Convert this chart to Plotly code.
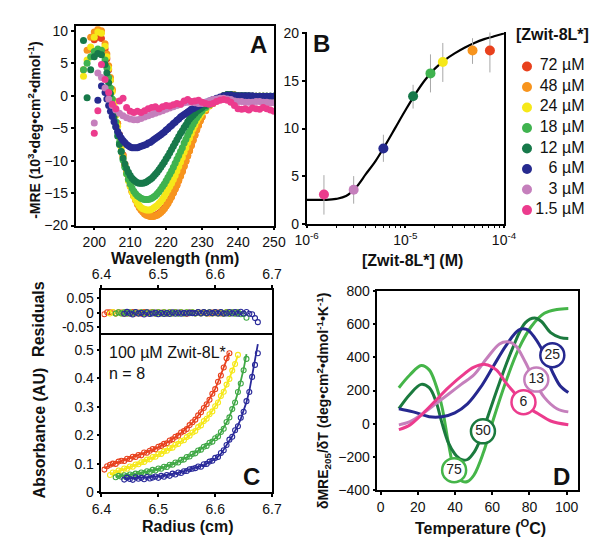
import plotly.graph_objects as go

FONT = "Liberation Sans, Arial, sans-serif"
W, H = 601, 539
def fx(p): return p / W
def fy(p): return 1 - p / H

# ---------------- Panel A: CD spectra ----------------
wavelength = list(range(197, 251))
wl_half = [203.5 + k for k in range(27)]
mre_72 = [None, None, 7.2, 8.6, 9.0, 8.8, 7.2, 4.0, 0.8, -2.6,
          -6.0, -9.1, -11.7, -13.8, -15.4, -16.6, -17.5, -18.1, -18.4, -18.5,
          -18.4, -18.1, -17.6, -16.9, -16.0, -14.9, -13.7, -12.3, -10.8, -9.2,
          -7.6, -6.0, -4.5, -3.2, -2.2, -1.5, -1.1, -0.7, -0.3, 0.0,
          0.1, 0.2, 0.1, 0.0, -0.1, -0.1, -0.1, -0.2, -0.2, -0.2,
          -0.2, -0.3, -0.3, -0.3]
mre_72_h = [5.7, 2.4, -0.9, -4.3, -7.6, -10.5, -12.8, -14.7, -16.0, -17.1,
            -17.8, -18.3, -18.5, -18.5, -18.3, -17.9, -17.3, -16.5, -15.5, -14.3,
            -13.0, -11.6, -10.0, -8.4, -6.8, -5.2, -3.8]
mre_48 = [4.0, 7.0, 9.0, 9.8, 10.2, 10.0, 8.0, 4.6, 1.0, -2.5,
          -6.0, -9.2, -11.8, -13.9, -15.5, -16.7, -17.6, -18.2, -18.5, -18.6,
          -18.5, -18.2, -17.7, -17.0, -16.1, -15.0, -13.8, -12.4, -10.9, -9.3,
          -7.7, -6.1, -4.6, -3.3, -2.3, -1.6, -1.2, -0.8, -0.4, -0.1,
          0.1, 0.2, 0.1, 0.0, 0.0, -0.1, -0.1, -0.1, -0.1, -0.1,
          -0.1, -0.2, -0.2, -0.2]
mre_48_h = [6.4, 2.8, -0.8, -4.3, -7.6, -10.6, -12.9, -14.8, -16.1, -17.2,
            -17.9, -18.4, -18.6, -18.6, -18.4, -18.0, -17.4, -16.6, -15.6, -14.4,
            -13.1, -11.7, -10.1, -8.5, -6.9, -5.3, -3.9]
mre_24 = [3.0, 5.5, 7.5, 9.0, 9.8, 9.6, 7.6, 4.2, 0.6, -3.0,
          -6.4, -9.5, -12.0, -14.0, -15.5, -16.5, -17.2, -17.5, -17.6, -17.5,
          -17.1, -16.6, -15.9, -15.0, -14.0, -12.9, -11.6, -10.2, -8.7, -7.2,
          -5.8, -4.5, -3.4, -2.6, -2.0, -1.5, -1.2, -0.8, -0.4, -0.1,
          0.1, 0.1, 0.0, 0.0, 0.0, -0.1, -0.1, -0.1, -0.1, -0.1,
          -0.1, -0.1, -0.2, -0.2]
mre_24_h = [6.0, 2.4, -1.2, -4.7, -8.0, -10.8, -13.1, -14.8, -16.0, -16.9,
            -17.4, -17.6, -17.6, -17.3, -16.9, -16.3, -15.5, -14.5, -13.5, -12.3,
            -10.9, -9.5, -8.0, -6.5, -5.1, -3.9, -3.0]
mre_18 = [4.0, 5.0, 6.0, 6.8, 7.2, 7.0, 5.5, 2.8, -0.5, -4.0,
          -7.2, -9.9, -12.0, -13.6, -14.7, -15.4, -15.8, -16.0, -16.0, -15.8,
          -15.4, -14.8, -14.0, -13.1, -12.1, -11.0, -9.8, -8.6, -7.3, -6.1,
          -4.9, -3.9, -3.0, -2.3, -1.8, -1.4, -1.1, -0.7, -0.3, 0.0,
          0.2, 0.1, 0.0, 0.0, 0.0, 0.0, -0.1, -0.1, -0.1, -0.1,
          -0.1, -0.1, -0.1, -0.1]
mre_18_h = [4.3, 1.2, -2.3, -5.6, -8.6, -11.0, -12.9, -14.2, -15.1, -15.6,
            -15.9, -16.0, -15.9, -15.6, -15.1, -14.4, -13.6, -12.6, -11.6, -10.4,
            -9.2, -8.0, -6.7, -5.5, -4.4, -3.4, -2.6]
mre_12 = [8.5, -0.3, 4.0, 6.0, 6.5, 6.3, 4.8, 2.0, -1.5, -4.8,
          -7.5, -9.6, -11.2, -12.3, -13.0, -13.4, -13.5, -13.4, -13.1, -12.7,
          -12.1, -11.4, -10.6, -9.7, -8.8, -7.8, -6.8, -5.8, -4.9, -4.0,
          -3.3, -2.7, -2.2, -1.8, -1.5, -1.2, -0.9, -0.6, -0.3, 0.0,
          0.2, 0.2, 0.1, 0.0, 0.0, 0.0, 0.0, -0.1, -0.1, -0.1,
          -0.1, -0.1, -0.1, -0.1]
mre_12_h = [3.5, 0.3, -3.2, -6.2, -8.6, -10.5, -11.8, -12.7, -13.2, -13.5,
            -13.5, -13.3, -12.9, -12.4, -11.8, -11.0, -10.2, -9.3, -8.3, -7.3,
            -6.3, -5.4, -4.5, -3.6, -3.0, -2.4, -2.0]
mre_6 = [None, None, None, None, -0.7, 1.5, 0.5, -1.5, -3.2, -4.8,
         -6.0, -6.9, -7.5, -7.9, -8.0, -8.0, -7.8, -7.6, -7.3, -7.0,
         -6.6, -6.2, -5.8, -5.3, -4.8, -4.3, -3.8, -3.3, -2.9, -2.5,
         -2.1, -1.8, -1.5, -1.2, -1.0, -0.8, -0.6, -0.4, -0.2, 0.0,
         0.1, 0.1, 0.0, 0.0, 0.0, 0.0, 0.0, 0.0, -0.1, -0.1,
         -0.1, -0.1, -0.1, -0.1]
mre_6_h = [-0.5, -2.4, -4.0, -5.5, -6.5, -7.2, -7.7, -8.0, -8.0, -7.9,
           -7.7, -7.5, -7.2, -6.8, -6.4, -6.0, -5.6, -5.1, -4.6, -4.1,
           -3.6, -3.1, -2.7, -2.3, -2.0, -1.7, -1.4]
mre_3 = [None, None, None, -4.2, 3.5, 2.8, 1.2, -0.5, -1.5, -2.2,
         -2.7, -3.1, -3.4, -3.6, -3.7, -3.7, -3.5, -3.3, -3.1, -2.9,
         -2.7, -2.5, -2.3, -2.1, -1.9, -1.7, -1.5, -1.3, -1.1, -1.0,
         -1.0, -1.1, -1.2, -1.2, -1.0, -0.8, -0.6, -0.5, -0.4, -0.4,
         -0.5, -0.6, -0.8, -0.9, -0.9, -1.0, -1.0, -1.0, -0.9, -0.9,
         -1.0, -1.0, -1.1, -1.1]
mre_1_5 = [None, None, None, -5.8, -2.3, 4.8, 2.5, 0.5, -1.3, -2.0,
           -0.8, -0.4, -1.8, -2.4, -2.6, -2.4, -2.6, -2.3, -2.0, -1.8,
           -1.7, -2.0, -1.7, -1.5, -1.6, -1.4, -1.2, -1.3, -0.8, -0.6,
           -0.9, -0.8, -0.7, -1.0, -1.2, -1.3, -1.2, -0.9, -0.7, -0.6,
           -0.7, -1.0, -1.5, -2.0, -2.1, -2.0, -2.2, -1.9, -2.0, -2.1,
           -1.8, -2.0, -2.2, -2.4]

# ---------------- Panel B: MRE vs concentration ----------------
conc_labels = ['72 µM', '48 µM', '24 µM', '18 µM', '12 µM', '6 µM', '3 µM', '1.5 µM']
conc_M = [72e-6, 48e-6, 24e-6, 18e-6, 12e-6, 6e-6, 3e-6, 1.5e-6]
conc_colors = ['#e8411d', '#f7941d', '#f6e819', '#3fb34f', '#17794a', '#262a8f', '#c57fbc', '#ec3b8d']
mre_B = [18.2, 18.2, 17.0, 15.8, 13.4, 7.9, 3.57, 3.06]
err_plus = [2.2, 1.3, 2.0, 2.0, 1.2, 1.45, 1.43, 2.04]
err_minus = [2.3, 1.4, 2.1, 2.0, 1.3, 1.4, 1.47, 2.11]
fit_logc = [-6.0, -5.9, -5.8, -5.7, -5.6, -5.5, -5.4, -5.3, -5.2, -5.1, -5.0,
            -4.9, -4.8, -4.7, -4.6, -4.5, -4.4, -4.3, -4.2, -4.1, -4.0]
fit_mre = [2.5, 2.5, 2.5, 2.6, 2.9, 3.8, 5.2, 6.6, 8.3, 10.1, 11.9,
           13.6, 15.1, 16.3, 17.2, 17.9, 18.5, 19.0, 19.4, 19.7, 20.0]

# ---------------- Panel C: sedimentation equilibrium ----------------
abs_red = [0.080, 0.092, 0.097, 0.101, 0.100, 0.108, 0.111, 0.110, 0.118, 0.117,
           0.125, 0.124, 0.131, 0.130, 0.140, 0.139, 0.146, 0.152, 0.151, 0.160,
           0.163, 0.170, 0.172, 0.182, 0.186, 0.195, 0.199, 0.210, 0.215, 0.222,
           0.236, 0.246, 0.255, 0.270, 0.281, 0.296, 0.309, 0.325, 0.346, 0.362,
           0.388, 0.410, 0.438, 0.470, 0.488]
fit_red = [0.085, 0.090, 0.095, 0.099, 0.1025, 0.106, 0.1095, 0.113, 0.116, 0.119,
           0.1225, 0.126, 0.1295, 0.133, 0.137, 0.141, 0.145, 0.149, 0.1535, 0.158,
           0.163, 0.168, 0.174, 0.180, 0.1865, 0.193, 0.2005, 0.208, 0.2165, 0.225,
           0.235, 0.245, 0.2565, 0.268, 0.281, 0.295, 0.311, 0.327, 0.345, 0.363,
           0.387, 0.412, 0.440, 0.468, 0.490]
abs_yel = [0.061, 0.070, 0.069, 0.077, 0.076, 0.084, 0.083, 0.091, 0.090, 0.098,
           0.099, 0.106, 0.107, 0.115, 0.116, 0.124, 0.125, 0.134, 0.135, 0.144,
           0.146, 0.155, 0.157, 0.167, 0.170, 0.180, 0.183, 0.194, 0.199, 0.210,
           0.215, 0.229, 0.235, 0.250, 0.258, 0.274, 0.284, 0.302, 0.315, 0.338,
           0.353, 0.378, 0.398, 0.427, 0.450, 0.482]
fit_yel = [0.063, 0.067, 0.071, 0.075, 0.078, 0.082, 0.085, 0.089, 0.092, 0.096,
           0.100, 0.104, 0.108, 0.113, 0.117, 0.122, 0.127, 0.132, 0.137, 0.142,
           0.147, 0.153, 0.159, 0.165, 0.171, 0.178, 0.185, 0.192, 0.200, 0.208,
           0.217, 0.227, 0.237, 0.248, 0.260, 0.272, 0.286, 0.300, 0.317, 0.336,
           0.355, 0.376, 0.400, 0.425, 0.452, 0.480]
abs_grn = [0.053, 0.058, 0.055, 0.060, 0.057, 0.063, 0.060, 0.066, 0.064, 0.070,
           0.068, 0.074, 0.072, 0.079, 0.077, 0.084, 0.083, 0.090, 0.089, 0.097,
           0.097, 0.105, 0.105, 0.114, 0.115, 0.124, 0.126, 0.135, 0.137, 0.147,
           0.150, 0.160, 0.163, 0.174, 0.178, 0.190, 0.196, 0.212, 0.223, 0.247,
           0.263, 0.292, 0.315, 0.352, 0.382, 0.428, 0.468]
fit_grn = [0.055, 0.056, 0.057, 0.058, 0.0595, 0.061, 0.0625, 0.064, 0.066, 0.068,
           0.070, 0.072, 0.0745, 0.077, 0.0795, 0.082, 0.085, 0.088, 0.0915, 0.095,
           0.099, 0.103, 0.1075, 0.112, 0.117, 0.122, 0.1275, 0.133, 0.139, 0.145,
           0.1515, 0.158, 0.165, 0.172, 0.180, 0.188, 0.198, 0.210, 0.226, 0.245,
           0.266, 0.290, 0.318, 0.350, 0.387, 0.432, 0.485]
abs_blu = [0.045, 0.052, 0.047, 0.044, 0.053, 0.048, 0.051, 0.046, 0.054, 0.049,
           0.052, 0.056, 0.051, 0.058, 0.055, 0.061, 0.058, 0.066, 0.063, 0.070,
           0.068, 0.074, 0.075, 0.081, 0.083, 0.085, 0.091, 0.090, 0.099, 0.100,
           0.108, 0.111, 0.121, 0.124, 0.138, 0.148, 0.166, 0.185, 0.195, 0.218,
           0.232, 0.262, 0.283, 0.320, 0.352, 0.405, 0.447, 0.488]
fit_blu = [0.048, 0.0485, 0.049, 0.0495, 0.050, 0.0505, 0.051, 0.0515, 0.052, 0.053,
           0.054, 0.055, 0.056, 0.0575, 0.059, 0.0605, 0.062, 0.064, 0.066, 0.0685,
           0.071, 0.074, 0.077, 0.080, 0.084, 0.086, 0.088, 0.092, 0.096, 0.101,
           0.106, 0.112, 0.118, 0.126, 0.135, 0.150, 0.168, 0.182, 0.197, 0.215,
           0.235, 0.258, 0.285, 0.317, 0.355, 0.410, 0.465, 0.520]
r_start = {'red': 6.405, 'yel': 6.415, 'grn': 6.425, 'blu': 6.44}
r_step = 0.005

# ---------------- Panel D: thermal derivative ----------------
T_75 = [9.8, 15.8, 21.8, 26.1, 29.6, 33.0, 36.4, 39.9, 43.3, 46.7, 50.2, 55.3, 60.5, 67.4, 74.2, 81.1, 88.0, 94.8, 100.9]
d_75 = [217, 295, 350, 324, 237, 101, -113, -288, -342, -346, -307, -171, 23, 256, 450, 586, 664, 687, 693]
T_50 = [9.8, 15.8, 21.8, 26.1, 29.6, 33.0, 36.4, 39.9, 43.3, 46.7, 50.2, 53.6, 57.0, 63.9, 70.8, 77.7, 82.8, 86.3, 91.4, 96.6, 100.9]
d_50 = [91, 178, 237, 217, 140, 4, -113, -181, -214, -214, -171, -93, 23, 247, 450, 606, 635, 616, 548, 518, 512]
T_25 = [9.8, 17.5, 26.1, 33.0, 39.9, 46.7, 53.6, 60.5, 67.4, 74.2, 78.5, 82.8, 88.0, 93.1, 96.6, 100.9]
d_25 = [91, 72, 43, 43, 66, 120, 217, 344, 470, 563, 567, 518, 421, 295, 227, 188]
T_13 = [9.8, 15.8, 22.7, 29.6, 36.4, 43.3, 50.2, 57.0, 63.9, 68.2, 72.5, 77.7, 82.8, 88.0, 94.8, 100.9]
d_13 = [-6, 13, 62, 120, 178, 237, 295, 392, 480, 493, 470, 373, 256, 159, 91, 72]
T_6 = [9.8, 15.8, 22.7, 29.6, 36.4, 43.3, 50.2, 56.2, 62.2, 67.4, 72.5, 77.7, 84.5, 91.4, 100.9]
d_6 = [-35, -6, 62, 140, 217, 285, 340, 357, 324, 246, 178, 110, 62, 17, -6]
label_T = [39.5, 55.0, 92.3, 83.7, 76.8]
label_val = [-278, -45, 412, 266, 130]
label_text = ['75', '50', '25', '13', '6']
D_colors = ['#45b549', '#1b7a3e', '#26288f', '#c57fbc', '#ec3b8d']

fig = go.Figure()

# Panel A traces
A_series = [(mre_72, mre_72_h), (mre_48, mre_48_h), (mre_24, mre_24_h), (mre_18, mre_18_h),
            (mre_12, mre_12_h), (mre_6, mre_6_h), (mre_3, None), (mre_1_5, None)]
for (ys, yh), c in zip(A_series, conc_colors):
    xs = list(wavelength)
    yy = list(ys)
    if yh is not None:
        xs += wl_half
        yy += yh
    fig.add_trace(go.Scatter(x=xs, y=yy, mode='markers', xaxis='x', yaxis='y',
                             marker=dict(size=7, color=c), showlegend=False, hoverinfo='skip'))

# Panel B
fig.add_trace(go.Scatter(x=[10 ** v for v in fit_logc], y=fit_mre, mode='lines', xaxis='x2', yaxis='y2',
                         line=dict(color='black', width=2.2, shape='spline'), showlegend=False))
for cM, m, ep, em, c in zip(conc_M, mre_B, err_plus, err_minus, conc_colors):
    fig.add_trace(go.Scatter(x=[cM], y=[m], mode='markers', xaxis='x2', yaxis='y2',
                             marker=dict(size=10, color=c),
                             error_y=dict(type='data', symmetric=False, array=[ep], arrayminus=[em],
                                          color='#a8a8a8', thickness=1, width=0),
                             showlegend=False))

# Legend of B (hidden helper axis)
idx = list(range(len(conc_labels)))
fig.add_trace(go.Scatter(x=[9] * len(idx), y=idx, mode='markers', xaxis='x6', yaxis='y6',
                         marker=dict(size=10, color=conc_colors), showlegend=False, hoverinfo='skip'))
fig.add_trace(go.Scatter(x=[69] * len(idx), y=idx, mode='text', xaxis='x6', yaxis='y6',
                         text=conc_labels, textposition='middle left',
                         textfont=dict(size=16, color='#111', family=FONT), showlegend=False, hoverinfo='skip'))

# Panel C
C_sets = [('red', abs_red, fit_red, '#e8411d'), ('yel', abs_yel, fit_yel, '#f6e819'),
          ('grn', abs_grn, fit_grn, '#3fa845'), ('blu', abs_blu, fit_blu, '#2a2a9a')]
for key, obs, fit, c in C_sets:
    r = [round(r_start[key] + i * r_step, 4) for i in range(len(obs))]
    resid = [o - f for o, f in zip(obs, fit)]
    fig.add_trace(go.Scatter(x=r, y=obs, mode='markers', xaxis='x4', yaxis='y4',
                             marker=dict(size=5, color='rgba(0,0,0,0)', line=dict(color=c, width=1.1)),
                             showlegend=False))
    fig.add_trace(go.Scatter(x=r, y=fit, mode='lines', xaxis='x4', yaxis='y4',
                             line=dict(color=c, width=1.8), showlegend=False))
    fig.add_trace(go.Scatter(x=r, y=resid, mode='markers', xaxis='x3', yaxis='y3',
                             marker=dict(size=5, color='rgba(0,0,0,0)', line=dict(color=c, width=1.1)),
                             showlegend=False))

# Panel D
for Ts, ds, c in zip([T_75, T_50, T_25, T_13, T_6], [d_75, d_50, d_25, d_13, d_6], D_colors):
    fig.add_trace(go.Scatter(x=Ts, y=ds, mode='lines', xaxis='x5', yaxis='y5',
                             line=dict(color=c, width=3, shape='spline', smoothing=1.0), showlegend=False))
fig.add_trace(go.Scatter(x=label_T, y=label_val, mode='markers+text', xaxis='x5', yaxis='y5',
                         text=label_text, textposition='middle center',
                         textfont=dict(size=14, color='#222', family=FONT),
                         marker=dict(size=24, color='white', line=dict(color=D_colors, width=2.5)),
                         showlegend=False))

def ax(**kw):
    base = dict(showline=True, linecolor='black', linewidth=1.6, ticks='outside', ticklen=3,
                tickwidth=1.5, tickcolor='black', showgrid=False, zeroline=False,
                tickfont=dict(size=14, color='#111', family=FONT))
    base.update(kw)
    return base

fig.update_layout(
    width=W, height=H, margin=dict(l=0, r=0, t=0, b=0),
    paper_bgcolor='white', plot_bgcolor='white', showlegend=False,
    font=dict(family=FONT, color='#111'),
    xaxis=ax(domain=[fx(58), fx(265)], range=[194.8, 250], tickvals=[200, 210, 220, 230, 240, 250],
             mirror=True, anchor='y'),
    yaxis=ax(domain=[fy(216), fy(10.5)], range=[-20, 10.7], tickvals=[-20, -15, -10, -5, 0, 5, 10],
             mirror=True, anchor='x'),
    xaxis2=ax(domain=[fx(299), fx(505)], type='log', range=[-6, -4],
              tickvals=[1e-6, 1e-5, 1e-4], ticktext=['10<sup>-6</sup>', '10<sup>-5</sup>', '10<sup>-4</sup>'],
              minor=dict(tickvals=[k * 1e-6 for k in range(2, 10)] + [k * 1e-5 for k in range(2, 10)],
                         ticks='outside', ticklen=2.5, tickcolor='black', tickwidth=1),
              anchor='y2'),
    yaxis2=ax(domain=[fy(214), fy(17)], range=[0, 20.1], tickvals=[0, 5, 10, 15, 20],
              mirror=True, anchor='x2'),
    xaxis3=ax(domain=[fx(85), fx(263)], range=[6.4, 6.7], tickvals=[6.4, 6.5, 6.6, 6.7],
              side='top', mirror=False, anchor='y3'),
    yaxis3=ax(domain=[fy(329), fy(282)], range=[-0.077, 0.08], tickvals=[-0.05, 0, 0.05],
              ticktext=['-0.05', '0', '0.05'], mirror=True, anchor='x3'),
    xaxis4=ax(domain=[fx(85), fx(263)], range=[6.4, 6.7], tickvals=[6.4, 6.5, 6.6, 6.7],
              mirror=True, anchor='y4'),
    yaxis4=ax(domain=[fy(491), fy(329)], range=[0, 0.551], tickvals=[0, 0.1, 0.2, 0.3, 0.4, 0.5],
              ticktext=['0', '0.1', '0.2', '0.3', '0.4', '0.5'], mirror=True, anchor='x4'),
    xaxis5=ax(domain=[fx(373), fx(582)], range=[-1.7, 106], tickvals=[0, 20, 40, 60, 80, 100],
              mirror=True, anchor='y5'),
    yaxis5=ax(domain=[fy(489), fy(283)], range=[-400, 800], tickvals=[-400, -200, 0, 200, 400, 600, 800],
              mirror=True, anchor='x5'),
    xaxis6=dict(domain=[fx(520), fx(600)], range=[0, 80], visible=False, anchor='y6'),
    yaxis6=dict(domain=[fy(210.6), fy(41.4)], range=[7.5, -0.5], visible=False, anchor='x6'),
)

def ann(text, x, y, size=16, bold=True, angle=0, xanchor='center', yanchor='middle'):
    t = f'<b>{text}</b>' if bold else text
    fig.add_annotation(text=t, x=fx(x), y=fy(y), xref='paper', yref='paper', showarrow=False,
                       textangle=angle, xanchor=xanchor, yanchor=yanchor,
                       font=dict(size=size, color='#111', family=FONT))

ann('A', 249, 29, size=24)
ann('B', 315, 28, size=24)
ann('C', 242, 475, size=24)
ann('D', 565, 475, size=24)
ann('-MRE (10<sup>3</sup>•deg•cm<sup>2</sup>•dmol<sup>-1</sup>)', 15, 118, size=14, angle=-90)
ann('Wavelength (nm)', 162, 239.5, size=16, yanchor='top')
ann('[Zwit-8L*] (M)', 410, 241, size=16, yanchor='top')
ann('[Zwit-8L*]', 556, 19, size=16)
ann('Residuals', 20, 312, size=16, angle=-90)
ann('Absorbance (AU)', 20, 430, size=16, angle=-90)
ann('Radius (cm)', 175, 515, size=16, yanchor='top')
ann('100 µM Zwit-8L*', 91, 347, size=16, bold=False, xanchor='left')
ann('n = 8', 91, 368, size=16, bold=False, xanchor='left')
ann('δMRE<sub>205</sub>/δT (deg•cm<sup>2</sup>•dmol<sup>-1</sup>•K<sup>-1</sup>)', 317, 397, size=14, angle=-90)
ann('Temperature (<sup>O</sup>C)', 480, 514, size=16, yanchor='top')

fig.write_html("out.html")
